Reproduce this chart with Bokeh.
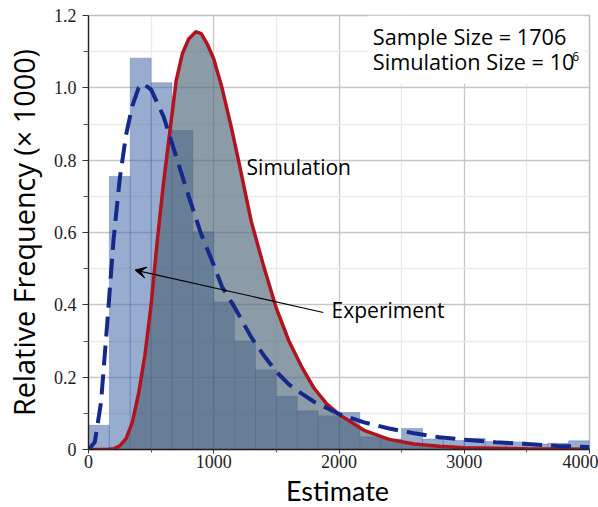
from bokeh.plotting import figure
from bokeh.layouts import column
from bokeh.models import (Range1d, FixedTicker, CustomJSTickFormatter, Label, Arrow,
                          VeeHead, BoxAnnotation, Div)
from bokeh.embed import file_html
from bokeh.resources import INLINE

# ---------------- data ----------------
bin_count = 24
x_max = 4000
exp_heights = [0.067, 0.755, 1.082, 1.014, 0.882, 0.602, 0.408, 0.300, 0.220, 0.147,
               0.107, 0.093, 0.102, 0.035, 0.029, 0.058, 0.029, 0.025, 0.031, 0.022,
               0.021, 0.015, 0.017, 0.024]

exp_fit_x = [0, 50, 100, 150, 200, 250, 300, 350, 400, 435, 500, 600, 700, 800, 900,
             1000, 1066, 1172, 1300, 1400, 1500, 1600, 1700, 1800, 1930, 2000, 2200,
             2400, 2600, 2800, 3000, 3250, 3500, 3750, 4000]
exp_fit_y = [0.0, 0.02, 0.13, 0.35, 0.58, 0.75, 0.87, 0.95, 1.0, 1.012, 0.995, 0.92,
             0.81, 0.70, 0.595, 0.51, 0.45, 0.39, 0.31, 0.26, 0.215, 0.18, 0.155, 0.132,
             0.11, 0.098, 0.075, 0.058, 0.045, 0.034, 0.027, 0.02, 0.015, 0.01, 0.007]

sim_x = [0, 150, 200, 250, 300, 350, 400, 450, 500, 550, 600, 650, 700, 750, 800, 857,
         900, 950, 1000, 1066, 1146, 1200, 1300, 1400, 1500, 1600, 1700, 1800, 1900,
         2000, 2200, 2400, 2600, 2800, 3000, 3500, 4000]
sim_y = [0.0, 0.0, 0.002, 0.01, 0.03, 0.075, 0.155, 0.26, 0.40, 0.58, 0.74, 0.88,
         1.02, 1.095, 1.135, 1.155, 1.15, 1.12, 1.08, 1.0, 0.882, 0.795, 0.63, 0.505,
         0.39, 0.30, 0.23, 0.17, 0.127, 0.097, 0.053, 0.028, 0.015, 0.009, 0.005,
         0.002, 0.001]

x_ticks = [0, 1000, 2000, 3000, 4000]
x_minor = [500, 1500, 2500, 3500]
y_ticks = [0, 0.2, 0.4, 0.6, 0.8, 1.0, 1.2]
y_minor = [0.1, 0.3, 0.5, 0.7, 0.9, 1.1]

bin_w = x_max / bin_count
lefts = [i * bin_w for i in range(bin_count)]
rights = [(i + 1) * bin_w for i in range(bin_count)]

# ---------------- figure ----------------
p = figure(width=598, height=480, output_backend="svg", toolbar_location=None,
           x_range=Range1d(0, 4000), y_range=Range1d(0, 1.2),
           min_border_left=86, min_border_right=9, min_border_top=15,
           min_border_bottom=31)
p.background_fill_color = "white"
p.border_fill_color = "white"
p.outline_line_color = "#BDBDBD"
p.outline_line_width = 1.5

p.xaxis.ticker = FixedTicker(ticks=x_ticks, minor_ticks=x_minor)
p.yaxis.ticker = FixedTicker(ticks=y_ticks, minor_ticks=y_minor)
p.yaxis.formatter = CustomJSTickFormatter(code="return tick == 0 ? '0' : tick.toFixed(1);")

for ax in (p.xaxis[0], p.yaxis[0]):
    ax.axis_line_color = "#222222"
    ax.axis_line_width = 1.3
    ax.major_tick_line_color = "#333333"
    ax.minor_tick_line_color = "#555555"
    ax.major_label_text_font = "Liberation Serif"
    ax.major_label_text_font_size = "18px"
    ax.major_label_text_color = "#222222"
    ax.axis_label_text_font = "Open Sans"
    ax.axis_label_text_font_style = "normal"
    ax.axis_label_text_color = "black"

p.yaxis.axis_label = "Relative Frequency (× 1000)"
p.yaxis.axis_label_text_font_size = "28.8px"
p.xaxis.major_tick_in = 0
p.xaxis.major_tick_out = 4
p.xaxis.minor_tick_in = 0
p.xaxis.minor_tick_out = 3
p.xaxis.major_label_standoff = 1
p.yaxis.major_tick_in = 0
p.yaxis.major_tick_out = 6
p.yaxis.minor_tick_in = 0
p.yaxis.minor_tick_out = 5
p.yaxis.major_label_standoff = 6
p.yaxis.axis_label_standoff = 8

p.xgrid.grid_line_color = "#C6C6C6"
p.ygrid.grid_line_color = "#C6C6C6"
p.xgrid.grid_line_width = 1.3
p.ygrid.grid_line_width = 1.3
p.xgrid.minor_grid_line_color = "#EAEAEA"
p.ygrid.minor_grid_line_color = "#EAEAEA"
p.xgrid.minor_grid_line_width = 1.3
p.ygrid.minor_grid_line_width = 1.3

# experiment histogram
p.quad(left=lefts, right=rights, bottom=0, top=exp_heights,
       fill_color="#4468A8", fill_alpha=0.55,
       line_color="#4468A8", line_alpha=0.35, line_width=1)

# simulation area
p.varea(x=sim_x, y1=0, y2=sim_y, fill_color="#4E6579", fill_alpha=0.65)

# simulation curve
p.line(sim_x, sim_y, line_color="#B0141E", line_width=3.5)

# experiment fit
p.line(exp_fit_x, exp_fit_y, line_color="#142A8A", line_width=4, line_dash="20 9")

# info box
p.add_layout(BoxAnnotation(left=2235, right=3960, bottom=1.012, top=1.2,
                           fill_color="white", fill_alpha=1.0, line_color=None,
                           level="annotation"))
common = dict(text_font="Open Sans", text_color="black", text_baseline="alphabetic")
p.add_layout(Label(x=2270, y=1.142, text="Sample Size = 1706", text_font_size="21.7px", **common))
p.add_layout(Label(x=2270, y=1.073, text="Simulation Size = 10", text_font_size="21.7px", **common))
p.add_layout(Label(x=3862, y=1.087, text="6", text_font_size="12px", **common))

p.add_layout(Label(x=1262, y=0.782, text="Simulation", text_font_size="21px", **common))
p.add_layout(Label(x=1941, y=0.387, text="Experiment", text_font_size="21px", **common))
p.add_layout(Arrow(end=VeeHead(size=11, fill_color="black", line_color="black", line_width=1),
                   x_start=1875, y_start=0.379, x_end=372, y_end=0.496,
                   line_color="black", line_width=1.1))

# x-axis title below the plot, centred under the plot frame
xlabel = Div(text='<div style="display:block;width:521px;margin-left:77px;text-align:center;'
                  'font-family:Lato;font-size:27px;line-height:21px;color:black;'
                  'white-space:nowrap;">Estimate</div>',
             width=598, height=27, margin=0)

layout = column(p, xlabel, spacing=0)
open("out.html", "w").write(file_html(layout, INLINE))
